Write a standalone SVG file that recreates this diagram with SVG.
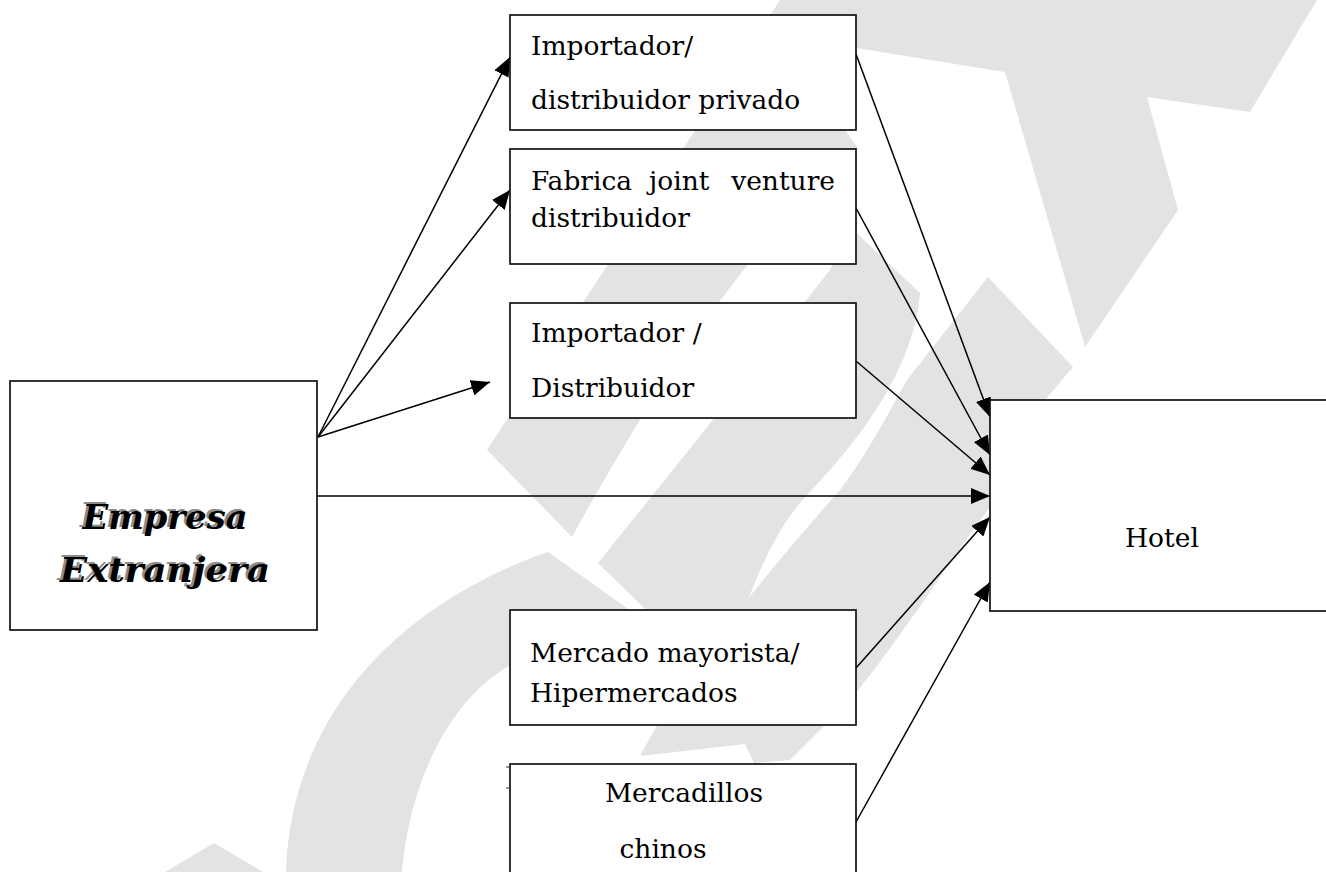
<svg xmlns="http://www.w3.org/2000/svg" width="1326" height="872" viewBox="0 0 1326 872">
<style>
.wm{fill:#e3e3e3;stroke:none}
.box{fill:#fff;stroke:#111;stroke-width:1.7}
.t{font-family:"DejaVu Serif","Liberation Serif",serif;font-size:26.5px;fill:#000}
.big{font-family:"DejaVu Serif","Liberation Serif",serif;font-size:33px;font-weight:bold;font-style:italic}
.shadow{fill:#8c8c8c}
.edge{stroke:#000;stroke-width:1.5;fill:none;marker-end:url(#ah)}
</style>
<defs>
<marker id="ah" markerUnits="userSpaceOnUse" markerWidth="19" markerHeight="16" refX="19" refY="8" orient="auto">
<path d="M0,0 L19,8 L0,16 Z" fill="#000"/>
</marker>
</defs>
<rect width="1326" height="872" fill="#fff"/>
<g id="watermark">
<path class="wm" d="M780,0 L1317,0 L1250,112 L1147,97 L1178,210 L1085,347 L1005,72 L850,47 L845,130 L858,148 C810,200 770,240 746,267 C680,350 620,450 572,537 L487,450 Z"/>
<path class="wm" d="M286,872 C290,740 370,620 536,556 L548,552 L655,628 C600,630 545,645 509,666 C450,700 410,780 402,872 Z"/>
<path class="wm" d="M850,227 L920,293 C915,360 870,430 806,496 C770,535 745,600 722,680 L700,663 L598,563 L700,436 L830,270 Z"/>
<path class="wm" d="M988,277 L1073,367 L1045,400 L990,400 L990,507 C950,560 900,640 850,700 L790,760 L754,763 L745,744 L640,756 C680,680 760,580 840,490 C870,450 890,410 907,380 Z"/>
<path class="wm" d="M165,872 L214,843 L263,872 Z"/>
</g>
<g id="connectors">
<line class="edge" x1="318" y1="437" x2="510" y2="57"/>
<line class="edge" x1="318" y1="437" x2="510" y2="190"/>
<line class="edge" x1="318" y1="437" x2="490" y2="382"/>
<line class="edge" x1="318" y1="496" x2="990" y2="496"/>
<line class="edge" x1="856" y1="54" x2="990" y2="417"/>
<line class="edge" x1="856" y1="208" x2="990" y2="455"/>
<line class="edge" x1="856" y1="361" x2="990" y2="475"/>
<line class="edge" x1="856" y1="668" x2="990" y2="517"/>
<line class="edge" x1="856" y1="822" x2="990" y2="582"/>
</g>
<g id="empresa">
<rect class="box" x="10" y="381" width="307" height="249"/>
<text class="big shadow" x="162.5" y="527" text-anchor="middle" textLength="165" lengthAdjust="spacingAndGlyphs">Empresa</text>
<text class="big" x="165" y="529" text-anchor="middle" fill="#000" textLength="165" lengthAdjust="spacingAndGlyphs">Empresa</text>
<text class="big shadow" x="162.5" y="580" text-anchor="middle" textLength="210" lengthAdjust="spacingAndGlyphs">Extranjera</text>
<text class="big" x="165" y="582" text-anchor="middle" fill="#000" textLength="210" lengthAdjust="spacingAndGlyphs">Extranjera</text>
</g>
<g id="importador-privado">
<rect class="box" x="510" y="15" width="346" height="115"/>
<text class="t" x="531" y="55">Importador/</text>
<text class="t" x="531" y="109">distribuidor privado</text>
</g>
<g id="fabrica">
<rect class="box" x="510" y="149" width="346" height="115"/>
<text class="t" x="531" y="190">Fabrica</text>
<text class="t" x="649" y="190">joint</text>
<text class="t" x="835" y="190" text-anchor="end">venture</text>
<text class="t" x="531" y="227">distribuidor</text>
</g>
<g id="importador-distribuidor">
<rect class="box" x="510" y="303" width="346" height="115"/>
<text class="t" x="531" y="342">Importador /</text>
<text class="t" x="531" y="397">Distribuidor</text>
</g>
<g id="mercado">
<rect class="box" x="510" y="610" width="346" height="115"/>
<text class="t" x="530" y="662">Mercado mayorista/</text>
<text class="t" x="530" y="702">Hipermercados</text>
</g>
<g id="mercadillos">
<rect class="box" x="510" y="764" width="346" height="130"/>
<line x1="506" y1="767" x2="510" y2="767" stroke="#333" stroke-width="1"/>
<line x1="506" y1="788" x2="510" y2="788" stroke="#333" stroke-width="1"/>
<text class="t" x="684" y="802" text-anchor="middle">Mercadillos</text>
<text class="t" x="663" y="858" text-anchor="middle">chinos</text>
</g>
<g id="hotel">
<rect class="box" x="990" y="400" width="360" height="211"/>
<text class="t" x="1125" y="547">Hotel</text>
</g>
</svg>
